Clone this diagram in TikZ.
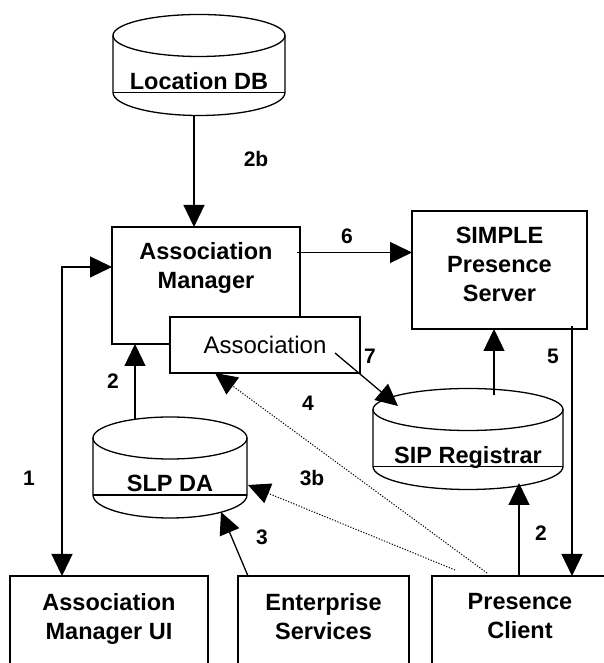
\documentclass[tikz,border=0pt]{standalone}
\usepackage{fontspec}
\setmainfont{Liberation Sans}
\usetikzlibrary{arrows.meta}

% cylinder outline round a db node: name, x radius
\newcommand\dbshape[2]{%
\draw ([yshift=-21pt]#1.north) ellipse [x radius=#2, y radius=21pt];
\draw ([yshift=-21pt]#1.north west) -- ([yshift=23pt]#1.south west)
  arc [start angle=180, end angle=360, x radius=#2, y radius=23pt]
  -- ([yshift=-21pt]#1.north east);
\draw ([yshift=23pt]#1.south west) -- ([yshift=23pt]#1.south east);
}

\begin{document}
\begin{tikzpicture}[x=1pt, y=1pt, line width=1.3pt,
  >={Triangle[length=22pt,width=21pt]},
  box/.style={draw, inner sep=0pt, outer sep=0pt},
  db/.style={inner sep=0pt, outer sep=0pt, minimum height=101pt},
  bold/.style={font=\fontsize{23.5}{29}\selectfont\bfseries, align=center, inner sep=0pt},
  num/.style={font=\fontsize{21}{24}\selectfont\bfseries},
  hint/.style={->, dash pattern=on 1.2pt off 1.6pt, line width=1pt}]
\useasboundingbox (0,0) rectangle (604,663);

\node [db, minimum width=172pt, label={[bold, anchor=base, yshift=26pt]south:Location DB}] (locdb) at (199,598) {};
\dbshape{locdb}{86pt}
\node [db, minimum width=154pt, label={[bold, anchor=base, yshift=26pt]south:SLP DA}] (slpda) at (170,195.5) {};
\dbshape{slpda}{77pt}
\node [db, minimum width=190pt, label={[bold, anchor=base, yshift=26pt]south:SIP Registrar}] (sipreg) at (468,224) {};
\dbshape{sipreg}{95pt}

\node [box, minimum width=188pt, minimum height=117pt, label={[bold, anchor=north, yshift=-15pt]north:Association\\Manager}] (mgr) at (206,377.5) {};
\node [box, fill=white, minimum width=190pt, minimum height=56pt, font=\fontsize{24}{28}\selectfont] (assoc) at (265,318) {Association};
\node [box, minimum width=175pt, minimum height=118pt, label={[bold, anchor=north, yshift=-15pt]north:SIMPLE\\Presence\\Server}] (simple) at (499.5,393) {};

\node [box, minimum width=198pt, minimum height=107pt, label={[bold, anchor=north, yshift=-17pt]north:Association\\Manager UI}] (amui) at (109,33.5) {};
\node [box, minimum width=171pt, minimum height=107pt, label={[bold, anchor=north, yshift=-17pt]north:Enterprise\\Services}] (entsrv) at (323.5,33.5) {};
\node [box, minimum width=176pt, minimum height=107pt, label={[bold, anchor=north, yshift=-17pt]north:Presence\\Client}] (pclient) at (520,33.5) {};

% messages
\coordinate (bend1) at (62,396);
\draw [<->] (amui.north -| bend1) |- (mgr.west |- bend1);
\draw [->] ([xshift=-5pt]locdb.south) -- ([xshift=-5pt]locdb.south |- mgr.north);
\draw [->] ([xshift=-3pt,yshift=33pt]mgr.east) -- ([yshift=33pt]mgr.east -| simple.west);
\draw [->] ([xshift=26pt,yshift=-7pt]sipreg.north) -- ([xshift=26pt]sipreg.north |- simple.south);
\draw [->] ([xshift=-15pt,yshift=3pt]simple.south east) -- ([xshift=-15pt]simple.south east |- pclient.north);
\draw [->] ([xshift=-1pt]pclient.north) -- ([xshift=-1pt,yshift=6.5pt]pclient.north |- sipreg.south);
\draw [->] ([xshift=-35pt,yshift=-3pt]slpda.north) -- ([xshift=-35pt]slpda.north |- mgr.south);
\draw [->] ([xshift=-75.5pt]entsrv.north) -- ([xshift=51pt,yshift=6pt]slpda.south);
\draw [->] ([xshift=-25pt,yshift=-8pt]assoc.east) -- ([xshift=-70pt,yshift=-17.5pt]sipreg.north);
\draw [hint] ([xshift=23pt,yshift=6pt]pclient.north west) -- ([xshift=1pt,yshift=-17.5pt]slpda.east);
\draw [hint] ([xshift=55pt,yshift=3pt]pclient.north west) -- ([xshift=-50pt]assoc.south);

% step numbers
\node [num] (n2b) at (256,504) {2b};
\node [num] (n6) at (347,427) {6};
\node [num] (n7) at (370,307) {7};
\node [num] (n5) at (553,307) {5};
\node [num] (n2l) at (113,282) {2};
\node [num] (n4) at (308,260) {4};
\node [num] (n1) at (29,185) {1};
\node [num] (n3b) at (312,185) {3b};
\node [num] (n3) at (262,126) {3};
\node [num] (n2r) at (541,130) {2};
\end{tikzpicture}
\end{document}
